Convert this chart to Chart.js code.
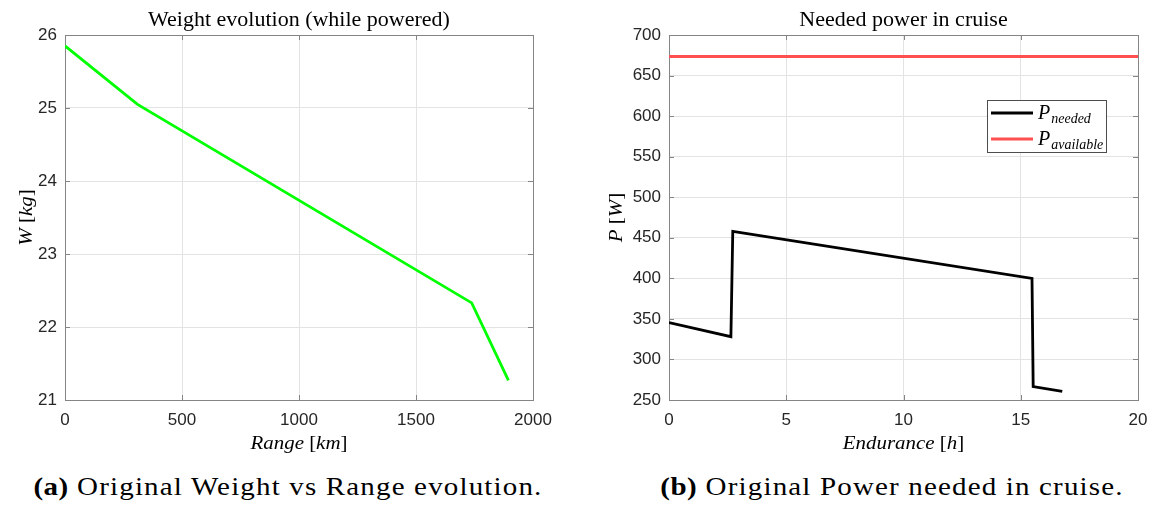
<!DOCTYPE html>
<html>
<head>
<meta charset="utf-8">
<script src="https://cdn.jsdelivr.net/npm/chart.js@4.4.0/dist/chart.umd.min.js"></script>
<style>
  html, body { margin: 0; padding: 0; background: #fff; }
  body { width: 1152px; height: 511px; position: relative; overflow: hidden; }
  canvas { position: absolute; top: 0; }
  #weight { left: 0; }
  #power { left: 576px; }
  .caption {
    position: absolute; top: 475px; transform: translateX(-50%) scaleX(1.16);
    font-family: 'Liberation Serif', serif; font-size: 25px; line-height: 24px;
    letter-spacing: 1px; white-space: nowrap; color: #000;
  }
  .caption b { letter-spacing: 0.4px; }
</style>
</head>
<body>
<canvas id="weight" width="576" height="460"></canvas>
<canvas id="power" width="576" height="460"></canvas>
<div class="caption" style="left: 288px;"><b>(a)</b> Original Weight vs Range evolution.</div>
<div class="caption" style="left: 892px;"><b>(b)</b> Original Power needed in cruise.</div>
<script>
// weight while powered
const rangeKm = [0, 310, 1738, 1895];
const weightKg = [25.85, 25.05, 22.33, 21.27];
const rangeTicks = [0, 500, 1000, 1500, 2000];
const weightTicks = [21, 22, 23, 24, 25, 26];

// cruise power
const enduranceH = [0, 2.64, 2.72, 15.48, 15.53, 16.77];
const powerNeeded = [345.5, 328, 458, 400, 266.5, 260.5];
const availableH = [0, 20];
const powerAvailable = [673.5, 673.5];
const enduranceTicks = [0, 5, 10, 15, 20];
const powerTicks = [250, 300, 350, 400, 450, 500, 550, 600, 650, 700];

const INK = '#262626';
const AXIS = '#858585';
const GRID = '#e3e3e3';
const SERIF = "'Liberation Serif', serif";
const WIDEN = 1.1; // serif labels run a bit wide

const points = (xs, ys) => xs.map((x, i) => ({ x, y: ys[i] }));

function axis(ticks, pos, size, pad) {
  return {
    type: 'linear',
    position: pos,
    min: ticks[0],
    max: ticks[ticks.length - 1],
    afterBuildTicks: (s) => { s.ticks = ticks.map((value) => ({ value })); },
    afterFit: (s) => {
      if (pos === 'left') s.width = size; else s.height = size;
      s.paddingLeft = s.paddingRight = s.paddingTop = s.paddingBottom = 0;
    },
    grid: { color: GRID, lineWidth: 1, drawTicks: false },
    border: { display: false },
    ticks: {
      color: INK,
      font: { family: "'Liberation Sans', Arial, sans-serif", size: 17 },
      padding: pad,
      maxRotation: 0,
      autoSkip: false,
      callback: (v) => String(v),
    },
  };
}

// draws a run of text pieces, each with its own style, centred on x
function richText(ctx, parts, x, y) {
  const fonts = parts.map((p) => `${p.it ? 'italic ' : ''}${p.size}px ${SERIF}`);
  const widths = parts.map((p, i) => { ctx.font = fonts[i]; return ctx.measureText(p.t).width; });
  ctx.save();
  ctx.translate(x, y);
  ctx.scale(WIDEN, 1);
  let cx = -widths.reduce((a, b) => a + b, 0) / 2;
  ctx.textAlign = 'left';
  ctx.textBaseline = 'alphabetic';
  parts.forEach((p, i) => {
    ctx.font = fonts[i];
    ctx.fillText(p.t, cx, p.dy || 0);
    cx += widths[i];
  });
  ctx.restore();
}

function unitLabel(name, unit, size) {
  return [
    { t: name + ' ', it: true, size },
    { t: '[', size },
    { t: unit, it: true, size },
    { t: ']', size },
  ];
}

const frame = {
  id: 'frame',
  beforeDatasetsDraw(chart) {
    const { ctx, chartArea: a, scales: { x, y } } = chart;
    const px = (v) => Math.round(v) + 0.5;
    ctx.save();
    ctx.strokeStyle = AXIS;
    ctx.lineWidth = 1;
    ctx.strokeRect(px(a.left), px(a.top), Math.round(a.right) - Math.round(a.left), Math.round(a.bottom) - Math.round(a.top));
    ctx.beginPath();
    x.ticks.forEach((t) => {
      const p = px(x.getPixelForValue(t.value));
      ctx.moveTo(p, a.bottom); ctx.lineTo(p, a.bottom - 5);
      ctx.moveTo(p, a.top); ctx.lineTo(p, a.top + 5);
    });
    y.ticks.forEach((t) => {
      const p = px(y.getPixelForValue(t.value));
      ctx.moveTo(a.left, p); ctx.lineTo(a.left + 5, p);
      ctx.moveTo(a.right, p); ctx.lineTo(a.right - 5, p);
    });
    ctx.stroke();
    ctx.restore();
  },
  afterDraw(chart, args, opts) {
    const { ctx, chartArea: a } = chart;
    const cx = (a.left + a.right) / 2;
    ctx.save();
    ctx.fillStyle = '#000';
    richText(ctx, [{ t: opts.title, size: 20 }], cx, 26);
    richText(ctx, opts.xTitle, cx, 449);
    ctx.translate(opts.yTitleX, (a.top + a.bottom) / 2);
    ctx.rotate(-Math.PI / 2);
    richText(ctx, opts.yTitle, 0, 0);
    ctx.restore();
  },
};

// legend with subscripted labels
const subLegend = {
  id: 'subLegend',
  afterDraw(chart, args, opts) {
    if (!opts.entries) return;
    const { ctx, chartArea: a } = chart;
    const right = a.right - opts.right;
    const left = right - opts.width;
    const top = a.top + opts.top;
    ctx.save();
    ctx.fillStyle = '#fff';
    ctx.fillRect(left, top, opts.width, opts.height);
    ctx.strokeStyle = '#4d4d4d';
    ctx.lineWidth = 1;
    ctx.strokeRect(Math.round(left) + 0.5, Math.round(top) + 0.5, opts.width, opts.height);
    opts.entries.forEach((e, i) => {
      const ds = chart.data.datasets[i];
      const ly = top + 13 + i * 26;
      ctx.strokeStyle = ds.borderColor;
      ctx.lineWidth = ds.borderWidth;
      ctx.beginPath();
      ctx.moveTo(left + 4, ly);
      ctx.lineTo(left + 46, ly);
      ctx.stroke();
      ctx.fillStyle = '#000';
      ctx.font = `italic 20px ${SERIF}`;
      const w = ctx.measureText(e.main).width;
      ctx.textAlign = 'left';
      ctx.fillText(e.main, left + 51, ly + 6);
      ctx.font = `italic 14px ${SERIF}`;
      ctx.fillText(e.sub, left + 51 + w + 1, ly + 10);
    });
    ctx.restore();
  },
};

Chart.register(frame, subLegend);

new Chart(document.getElementById('weight'), {
  type: 'line',
  data: {
    datasets: [{
      label: 'W',
      data: points(rangeKm, weightKg),
      borderColor: '#00ff00',
      borderWidth: 2.8,
      pointRadius: 0,
      tension: 0,
    }],
  },
  options: {
    responsive: false,
    animation: false,
    events: [],
    layout: { padding: { left: 0, top: 35, right: 43, bottom: 0 } },
    scales: {
      x: axis(rangeTicks, 'bottom', 60, 10),
      y: axis(weightTicks, 'left', 65, 8),
    },
    plugins: {
      legend: { display: false },
      tooltip: { enabled: false },
      frame: {
        title: 'Weight evolution (while powered)',
        xTitle: unitLabel('Range', 'km', 19),
        yTitle: unitLabel('W', 'kg', 19),
        yTitleX: 32,
      },
    },
  },
});

new Chart(document.getElementById('power'), {
  type: 'line',
  data: {
    datasets: [
      {
        label: 'P needed',
        data: points(enduranceH, powerNeeded),
        borderColor: '#000000',
        borderWidth: 2.8,
        pointRadius: 0,
        tension: 0,
      },
      {
        label: 'P available',
        data: points(availableH, powerAvailable),
        borderColor: '#ff4f4f',
        borderWidth: 2.8,
        pointRadius: 0,
        tension: 0,
      },
    ],
  },
  options: {
    responsive: false,
    animation: false,
    events: [],
    layout: { padding: { left: 0, top: 35, right: 14, bottom: 0 } },
    scales: {
      x: axis(enduranceTicks, 'bottom', 60, 10),
      y: axis(powerTicks, 'left', 93, 8),
    },
    plugins: {
      legend: { display: false },
      tooltip: { enabled: false },
      frame: {
        title: 'Needed power in cruise',
        xTitle: unitLabel('Endurance', 'h', 19),
        yTitle: unitLabel('P', 'W', 19),
        yTitleX: 46,
      },
      subLegend: {
        right: 32, top: 65, width: 119, height: 52,
        entries: [
          { main: 'P', sub: 'needed' },
          { main: 'P', sub: 'available' },
        ],
      },
    },
  },
});
</script>
</body>
</html>
